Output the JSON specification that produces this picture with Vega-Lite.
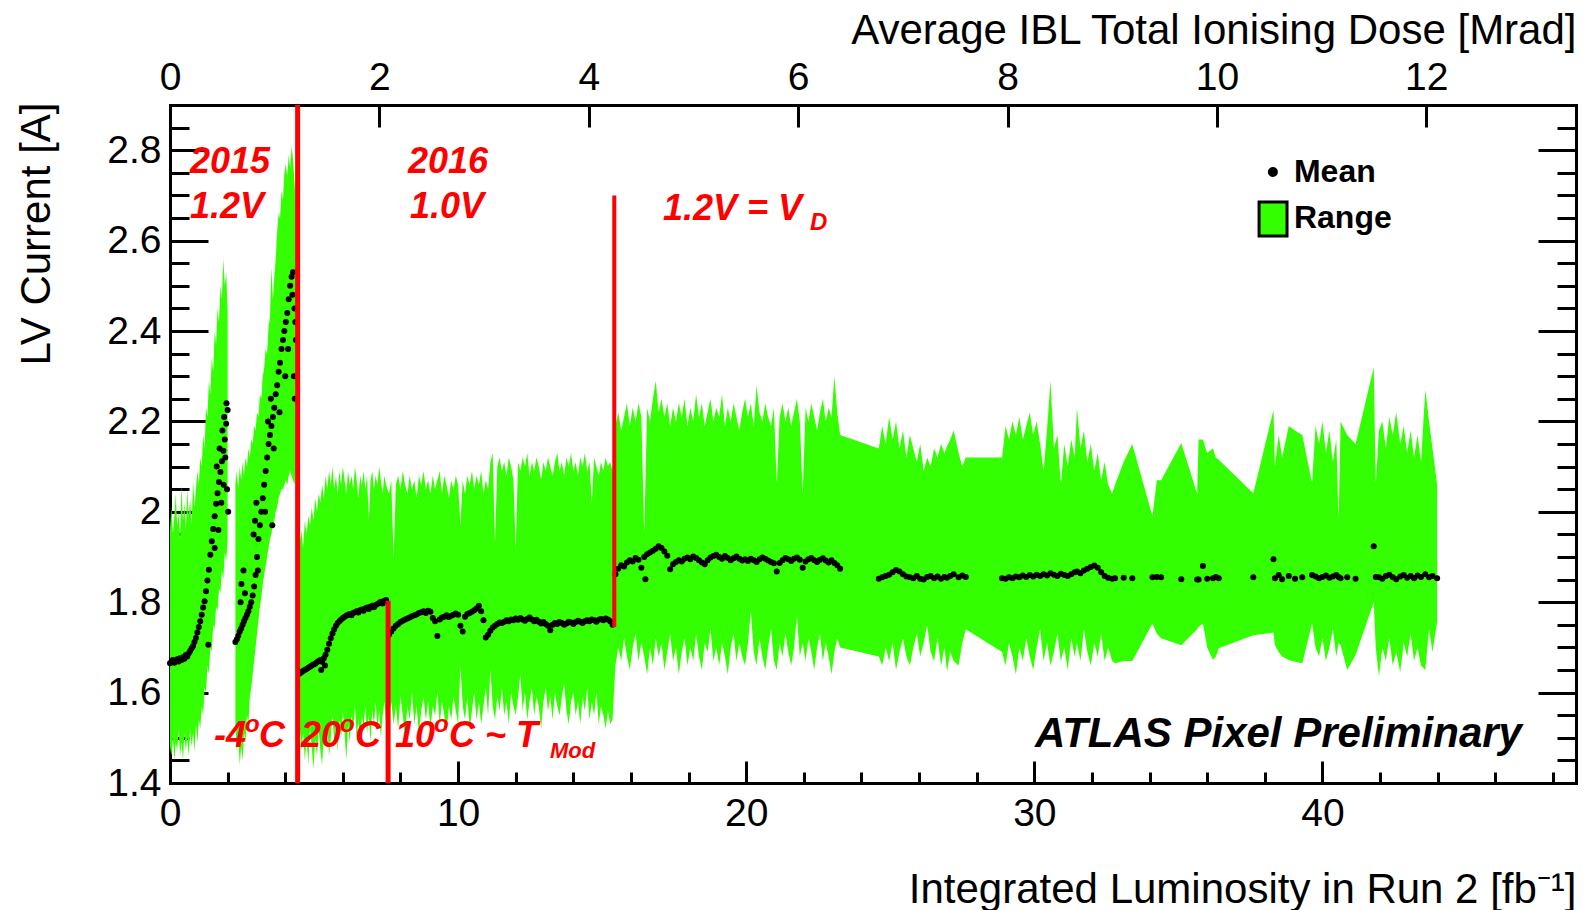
{
  "$schema": "https://vega.github.io/schema/vega-lite/v6.json",
  "width": 1406,
  "height": 678,
  "autosize": {"type": "none"},
  "padding": {"left": 170, "top": 105, "right": 18, "bottom": 127},
  "background": "white",
  "config": {
    "view": {"stroke": null},
    "font": "Liberation Sans",
    "axis": {
      "grid": false, "domain": false, "tickColor": "black", "tickWidth": 3,
      "labelFont": "Liberation Sans", "labelFontSize": 39, "labelColor": "black",
      "titleFont": "Liberation Sans", "titleFontSize": 42, "titleFontWeight": "normal", "titleColor": "black",
      "zindex": 1, "labelFlush": false, "labelOverlap": false,
      "domainColor": "black", "domainWidth": 3, "domainCap": "square"
    }
  },
  "datasets": {
    "lv": [
      {"L":0,"lo":1.48,"hi":1.96,"m":1.665,"s":1},
      {"L":0.05,"lo":1.46,"hi":2.01,"m":1.668,"s":1},
      {"L":0.1,"lo":1.5,"hi":1.95,"m":1.672,"s":1},
      {"L":0.15,"lo":1.45,"hi":1.99,"m":1.666,"s":1},
      {"L":0.2,"lo":1.49,"hi":2.04,"m":1.67,"s":1},
      {"L":0.25,"lo":1.47,"hi":1.97,"m":1.674,"s":1},
      {"L":0.3,"lo":1.52,"hi":2.0,"m":1.669,"s":1},
      {"L":0.35,"lo":1.46,"hi":1.94,"m":1.676,"s":1},
      {"L":0.4,"lo":1.49,"hi":2.06,"m":1.672,"s":1},
      {"L":0.45,"lo":1.45,"hi":1.98,"m":1.678,"s":1},
      {"L":0.5,"lo":1.51,"hi":2.02,"m":1.675,"s":1},
      {"L":0.55,"lo":1.47,"hi":1.96,"m":1.683,"s":1},
      {"L":0.6,"lo":1.5,"hi":2.05,"m":1.68,"s":1},
      {"L":0.65,"lo":1.46,"hi":1.99,"m":1.687,"s":1},
      {"L":0.7,"lo":1.52,"hi":2.03,"m":1.692,"s":1},
      {"L":0.75,"lo":1.48,"hi":1.97,"m":1.698,"s":1},
      {"L":0.8,"lo":1.51,"hi":2.07,"m":1.703,"s":1},
      {"L":0.85,"lo":1.47,"hi":2.01,"m":1.712,"s":1},
      {"L":0.9,"lo":1.53,"hi":2.05,"m":1.721,"s":1},
      {"L":0.95,"lo":1.49,"hi":2.09,"m":1.733,"s":1},
      {"L":1.0,"lo":1.54,"hi":2.06,"m":1.745,"s":1},
      {"L":1.05,"lo":1.52,"hi":2.12,"m":1.758,"s":1},
      {"L":1.1,"lo":1.57,"hi":2.1,"m":1.772,"s":1},
      {"L":1.15,"lo":1.55,"hi":2.17,"m":1.788,"s":1},
      {"L":1.2,"lo":1.61,"hi":2.14,"m":1.802,"s":1},
      {"L":1.25,"lo":1.6,"hi":2.23,"m":1.824,"s":1},
      {"L":1.3,"lo":1.66,"hi":2.21,"m":1.848,"s":1},
      {"L":1.35,"lo":1.64,"hi":2.29,"m":1.872,"s":1},
      {"L":1.4,"lo":1.7,"hi":2.26,"m":1.905,"s":1},
      {"L":1.45,"lo":1.69,"hi":2.34,"m":1.935,"s":1},
      {"L":1.5,"lo":1.75,"hi":2.31,"m":1.962,"s":1},
      {"L":1.55,"lo":1.74,"hi":2.4,"m":1.99,"s":1},
      {"L":1.6,"lo":1.79,"hi":2.37,"m":2.018,"s":1},
      {"L":1.65,"lo":1.78,"hi":2.45,"m":2.041,"s":1},
      {"L":1.7,"lo":1.83,"hi":2.42,"m":2.066,"s":1},
      {"L":1.75,"lo":1.82,"hi":2.5,"m":2.088,"s":1},
      {"L":1.8,"lo":1.87,"hi":2.47,"m":2.112,"s":1},
      {"L":1.85,"lo":1.85,"hi":2.56,"m":2.135,"s":1},
      {"L":1.9,"lo":1.91,"hi":2.5,"m":2.16,"s":1},
      {"L":1.95,"lo":1.89,"hi":2.53,"m":2.195,"s":1},
      {"L":2.0,"lo":1.94,"hi":2.44,"m":2.225,"s":1},
      {"L":1.33,"m":1.706},{"L":1.55,"m":1.92},{"L":1.62,"m":2.1},{"L":1.68,"m":1.96},
      {"L":1.72,"m":2.14},{"L":1.78,"m":2.02},{"L":1.82,"m":2.18},{"L":1.86,"m":2.06},
      {"L":1.88,"m":2.21},{"L":1.92,"m":2.12},{"L":1.96,"m":2.24},{"L":1.98,"m":2.05},{"L":2.02,"m":2.0},
      {"L":2.27,"lo":1.52,"hi":2.06,"m":1.712,"s":2},
      {"L":2.32,"lo":1.47,"hi":2.09,"m":1.718,"s":2},
      {"L":2.37,"lo":1.5,"hi":2.05,"m":1.726,"s":2},
      {"L":2.42,"lo":1.44,"hi":2.1,"m":1.735,"s":2},
      {"L":2.47,"lo":1.48,"hi":2.07,"m":1.742,"s":2},
      {"L":2.52,"lo":1.45,"hi":2.11,"m":1.75,"s":2},
      {"L":2.57,"lo":1.51,"hi":2.08,"m":1.758,"s":2},
      {"L":2.62,"lo":1.49,"hi":2.12,"m":1.765,"s":2},
      {"L":2.67,"lo":1.55,"hi":2.1,"m":1.772,"s":2},
      {"L":2.72,"lo":1.53,"hi":2.14,"m":1.78,"s":2},
      {"L":2.77,"lo":1.59,"hi":2.12,"m":1.79,"s":2},
      {"L":2.82,"lo":1.61,"hi":2.16,"m":1.8,"s":2},
      {"L":2.87,"lo":1.64,"hi":2.15,"m":1.815,"s":2},
      {"L":2.92,"lo":1.67,"hi":2.19,"m":1.835,"s":2},
      {"L":2.97,"lo":1.7,"hi":2.18,"m":1.86,"s":2},
      {"L":3.02,"lo":1.73,"hi":2.22,"m":1.9,"s":2},
      {"L":3.07,"lo":1.76,"hi":2.21,"m":1.94,"s":2},
      {"L":3.12,"lo":1.79,"hi":2.26,"m":1.97,"s":2},
      {"L":3.17,"lo":1.81,"hi":2.25,"m":2.0,"s":2},
      {"L":3.22,"lo":1.84,"hi":2.3,"m":2.03,"s":2},
      {"L":3.27,"lo":1.86,"hi":2.32,"m":2.06,"s":2},
      {"L":3.32,"lo":1.88,"hi":2.36,"m":2.09,"s":2},
      {"L":3.37,"lo":1.9,"hi":2.35,"m":2.12,"s":2},
      {"L":3.42,"lo":1.92,"hi":2.41,"m":2.15,"s":2},
      {"L":3.47,"lo":1.94,"hi":2.43,"m":2.17,"s":2},
      {"L":3.52,"lo":1.95,"hi":2.54,"m":2.19,"s":2},
      {"L":3.57,"lo":1.97,"hi":2.47,"m":2.21,"s":2},
      {"L":3.62,"lo":1.98,"hi":2.52,"m":2.23,"s":2},
      {"L":3.67,"lo":2.0,"hi":2.56,"m":2.26,"s":2},
      {"L":3.72,"lo":2.01,"hi":2.62,"m":2.28,"s":2},
      {"L":3.77,"lo":2.03,"hi":2.66,"m":2.31,"s":2},
      {"L":3.82,"lo":2.04,"hi":2.65,"m":2.33,"s":2},
      {"L":3.87,"lo":2.05,"hi":2.71,"m":2.36,"s":2},
      {"L":3.92,"lo":2.05,"hi":2.69,"m":2.38,"s":2},
      {"L":3.97,"lo":2.06,"hi":2.75,"m":2.4,"s":2},
      {"L":4.02,"lo":2.07,"hi":2.77,"m":2.42,"s":2},
      {"L":4.07,"lo":2.06,"hi":2.74,"m":2.44,"s":2},
      {"L":4.12,"lo":2.08,"hi":2.79,"m":2.47,"s":2},
      {"L":4.17,"lo":2.09,"hi":2.76,"m":2.5,"s":2},
      {"L":4.22,"lo":2.08,"hi":2.81,"m":2.52,"s":2},
      {"L":4.27,"lo":2.07,"hi":2.78,"m":2.53,"s":2},
      {"L":4.32,"lo":2.06,"hi":2.73,"m":2.45,"s":2},
      {"L":4.37,"lo":2.09,"hi":2.68,"m":2.38,"s":2},
      {"L":2.45,"m":1.8},{"L":2.48,"m":1.84},{"L":2.55,"m":1.87},{"L":2.6,"m":1.82},
      {"L":2.9,"m":1.95},{"L":2.95,"m":1.98},{"L":3.0,"m":2.02},{"L":3.05,"m":1.87},
      {"L":3.3,"m":2.0},{"L":3.55,"m":1.97},{"L":3.4,"m":2.2},{"L":3.5,"m":2.25},
      {"L":3.6,"m":2.14},{"L":3.8,"m":2.22},{"L":4.0,"m":2.3},{"L":4.1,"m":2.36},
      {"L":4.25,"m":2.48},{"L":4.3,"m":2.3},{"L":4.33,"m":2.25},{"L":4.35,"m":2.42},
      {"L":4.5,"lo":1.53,"hi":1.93,"m":1.642,"s":3},
      {"L":4.56,"lo":1.47,"hi":1.96,"m":1.645,"s":3},
      {"L":4.62,"lo":1.51,"hi":1.92,"m":1.648,"s":3},
      {"L":4.68,"lo":1.45,"hi":1.98,"m":1.65,"s":3},
      {"L":4.74,"lo":1.5,"hi":1.95,"m":1.652,"s":3},
      {"L":4.8,"lo":1.44,"hi":1.99,"m":1.655,"s":3},
      {"L":4.86,"lo":1.52,"hi":1.97,"m":1.657,"s":3},
      {"L":4.92,"lo":1.48,"hi":2.01,"m":1.66,"s":3},
      {"L":4.98,"lo":1.43,"hi":1.98,"m":1.662,"s":3},
      {"L":5.04,"lo":1.5,"hi":2.03,"m":1.664,"s":3},
      {"L":5.1,"lo":1.46,"hi":2.0,"m":1.667,"s":3},
      {"L":5.16,"lo":1.52,"hi":2.04,"m":1.67,"s":3},
      {"L":5.22,"lo":1.47,"hi":2.02,"m":1.672,"s":3},
      {"L":5.28,"lo":1.44,"hi":2.06,"m":1.668,"s":3},
      {"L":5.34,"lo":1.51,"hi":2.03,"m":1.676,"s":3},
      {"L":5.4,"lo":1.48,"hi":2.08,"m":1.684,"s":3},
      {"L":5.46,"lo":1.53,"hi":2.05,"m":1.695,"s":3},
      {"L":5.52,"lo":1.46,"hi":2.09,"m":1.708,"s":3},
      {"L":5.58,"lo":1.5,"hi":2.06,"m":1.72,"s":3},
      {"L":5.64,"lo":1.55,"hi":2.1,"m":1.731,"s":3},
      {"L":5.7,"lo":1.49,"hi":2.05,"m":1.74,"s":3},
      {"L":5.76,"lo":1.53,"hi":2.08,"m":1.748,"s":3},
      {"L":5.82,"lo":1.47,"hi":2.04,"m":1.754,"s":3},
      {"L":5.88,"lo":1.54,"hi":2.09,"m":1.758,"s":3},
      {"L":5.94,"lo":1.5,"hi":2.06,"m":1.762,"s":3},
      {"L":6.0,"lo":1.56,"hi":2.1,"m":1.765,"s":3},
      {"L":6.06,"lo":1.51,"hi":2.07,"m":1.768,"s":3},
      {"L":6.12,"lo":1.45,"hi":2.04,"m":1.77,"s":3},
      {"L":6.18,"lo":1.53,"hi":2.09,"m":1.772,"s":3},
      {"L":6.24,"lo":1.49,"hi":2.06,"m":1.774,"s":3},
      {"L":6.3,"lo":1.55,"hi":2.08,"m":1.771,"s":3},
      {"L":6.36,"lo":1.52,"hi":2.05,"m":1.776,"s":3},
      {"L":6.42,"lo":1.57,"hi":2.1,"m":1.778,"s":3},
      {"L":6.48,"lo":1.5,"hi":2.07,"m":1.78,"s":3},
      {"L":6.54,"lo":1.54,"hi":2.03,"m":1.777,"s":3},
      {"L":6.6,"lo":1.48,"hi":2.08,"m":1.782,"s":3},
      {"L":6.66,"lo":1.55,"hi":2.06,"m":1.784,"s":3},
      {"L":6.72,"lo":1.52,"hi":2.09,"m":1.781,"s":3},
      {"L":6.78,"lo":1.57,"hi":2.05,"m":1.786,"s":3},
      {"L":6.84,"lo":1.51,"hi":2.08,"m":1.788,"s":3},
      {"L":6.9,"lo":1.55,"hi":1.98,"m":1.785,"s":3},
      {"L":6.96,"lo":1.49,"hi":2.07,"m":1.79,"s":3},
      {"L":7.02,"lo":1.56,"hi":2.09,"m":1.792,"s":3},
      {"L":7.08,"lo":1.53,"hi":2.05,"m":1.789,"s":3},
      {"L":7.14,"lo":1.58,"hi":2.08,"m":1.794,"s":3},
      {"L":7.2,"lo":1.52,"hi":2.06,"m":1.796,"s":3},
      {"L":7.26,"lo":1.56,"hi":2.1,"m":1.798,"s":3},
      {"L":7.32,"lo":1.5,"hi":2.07,"m":1.801,"s":3},
      {"L":7.38,"lo":1.55,"hi":2.04,"m":1.797,"s":3},
      {"L":7.44,"lo":1.58,"hi":2.08,"m":1.803,"s":3},
      {"L":7.5,"lo":1.53,"hi":2.06,"m":1.805,"s":3},
      {"L":5.25,"m":1.65},{"L":5.38,"m":1.66},
      {"L":7.6,"lo":1.55,"hi":2.04,"m":1.728,"s":3},
      {"L":7.68,"lo":1.58,"hi":2.07,"m":1.735,"s":3},
      {"L":7.76,"lo":1.53,"hi":1.9,"m":1.742,"s":3},
      {"L":7.84,"lo":1.57,"hi":2.06,"m":1.748,"s":3},
      {"L":7.92,"lo":1.52,"hi":2.08,"m":1.752,"s":3},
      {"L":8.0,"lo":1.59,"hi":2.05,"m":1.756,"s":3},
      {"L":8.08,"lo":1.55,"hi":2.09,"m":1.759,"s":3},
      {"L":8.16,"lo":1.5,"hi":2.06,"m":1.762,"s":3},
      {"L":8.24,"lo":1.57,"hi":2.04,"m":1.764,"s":3},
      {"L":8.32,"lo":1.54,"hi":2.08,"m":1.766,"s":3},
      {"L":8.4,"lo":1.6,"hi":2.05,"m":1.769,"s":3},
      {"L":8.48,"lo":1.53,"hi":2.07,"m":1.771,"s":3},
      {"L":8.56,"lo":1.57,"hi":2.03,"m":1.773,"s":3},
      {"L":8.64,"lo":1.51,"hi":2.08,"m":1.776,"s":3},
      {"L":8.72,"lo":1.56,"hi":2.06,"m":1.778,"s":3},
      {"L":8.8,"lo":1.59,"hi":2.09,"m":1.78,"s":3},
      {"L":8.88,"lo":1.54,"hi":2.05,"m":1.776,"s":3},
      {"L":8.96,"lo":1.58,"hi":2.07,"m":1.781,"s":3},
      {"L":9.04,"lo":1.52,"hi":2.04,"m":1.779,"s":3},
      {"L":9.12,"lo":1.57,"hi":2.08,"m":1.765,"s":3},
      {"L":9.2,"lo":1.55,"hi":2.05,"m":1.758,"s":3},
      {"L":9.28,"lo":1.6,"hi":2.07,"m":1.725,"s":3},
      {"L":9.36,"lo":1.53,"hi":2.09,"m":1.762,"s":3},
      {"L":9.44,"lo":1.58,"hi":2.04,"m":1.766,"s":3},
      {"L":9.52,"lo":1.55,"hi":2.08,"m":1.768,"s":3},
      {"L":9.6,"lo":1.51,"hi":2.06,"m":1.771,"s":3},
      {"L":9.68,"lo":1.57,"hi":2.03,"m":1.767,"s":3},
      {"L":9.76,"lo":1.54,"hi":2.07,"m":1.77,"s":3},
      {"L":9.84,"lo":1.59,"hi":2.05,"m":1.772,"s":3},
      {"L":9.92,"lo":1.56,"hi":2.08,"m":1.775,"s":3},
      {"L":10.0,"lo":1.53,"hi":2.06,"m":1.772,"s":3},
      {"L":10.08,"lo":1.66,"hi":1.97,"m":1.748,"s":3},
      {"L":10.16,"lo":1.57,"hi":2.07,"m":1.735,"s":3},
      {"L":10.24,"lo":1.54,"hi":2.04,"m":1.768,"s":3},
      {"L":10.32,"lo":1.59,"hi":2.08,"m":1.774,"s":3},
      {"L":10.4,"lo":1.52,"hi":2.06,"m":1.776,"s":3},
      {"L":10.48,"lo":1.56,"hi":2.09,"m":1.779,"s":3},
      {"L":10.56,"lo":1.6,"hi":2.05,"m":1.782,"s":3},
      {"L":10.64,"lo":1.54,"hi":2.08,"m":1.786,"s":3},
      {"L":10.72,"lo":1.58,"hi":2.06,"m":1.792,"s":3},
      {"L":10.8,"lo":1.53,"hi":2.09,"m":1.78,"s":3},
      {"L":10.88,"lo":1.57,"hi":2.04,"m":1.76,"s":3},
      {"L":10.96,"lo":1.61,"hi":2.07,"m":1.722,"s":3},
      {"L":11.04,"lo":1.55,"hi":2.05,"m":1.728,"s":3},
      {"L":11.12,"lo":1.65,"hi":2.11,"m":1.737,"s":3},
      {"L":11.2,"lo":1.57,"hi":2.13,"m":1.744,"s":3},
      {"L":11.28,"lo":1.54,"hi":1.93,"m":1.748,"s":3},
      {"L":11.36,"lo":1.59,"hi":2.1,"m":1.752,"s":3},
      {"L":11.44,"lo":1.56,"hi":2.12,"m":1.755,"s":3},
      {"L":11.52,"lo":1.61,"hi":2.09,"m":1.754,"s":3},
      {"L":11.6,"lo":1.55,"hi":2.11,"m":1.757,"s":3},
      {"L":11.68,"lo":1.58,"hi":2.08,"m":1.76,"s":3},
      {"L":11.76,"lo":1.53,"hi":2.12,"m":1.758,"s":3},
      {"L":11.84,"lo":1.6,"hi":2.1,"m":1.762,"s":3},
      {"L":11.92,"lo":1.57,"hi":2.07,"m":1.76,"s":3},
      {"L":12.0,"lo":1.55,"hi":1.92,"m":1.764,"s":3},
      {"L":12.08,"lo":1.59,"hi":2.11,"m":1.761,"s":3},
      {"L":12.16,"lo":1.64,"hi":2.09,"m":1.765,"s":3},
      {"L":12.24,"lo":1.56,"hi":2.12,"m":1.762,"s":3},
      {"L":12.32,"lo":1.6,"hi":2.1,"m":1.759,"s":3},
      {"L":12.4,"lo":1.54,"hi":2.13,"m":1.763,"s":3},
      {"L":12.48,"lo":1.58,"hi":2.08,"m":1.766,"s":3},
      {"L":12.56,"lo":1.61,"hi":2.11,"m":1.762,"s":3},
      {"L":12.64,"lo":1.55,"hi":2.09,"m":1.758,"s":3},
      {"L":12.72,"lo":1.59,"hi":2.12,"m":1.761,"s":3},
      {"L":12.8,"lo":1.57,"hi":2.1,"m":1.757,"s":3},
      {"L":12.88,"lo":1.52,"hi":2.07,"m":1.753,"s":3},
      {"L":12.96,"lo":1.58,"hi":2.11,"m":1.756,"s":3},
      {"L":13.04,"lo":1.61,"hi":2.09,"m":1.752,"s":3},
      {"L":13.12,"lo":1.56,"hi":2.12,"m":1.748,"s":3},
      {"L":13.2,"lo":1.59,"hi":2.1,"m":1.738,"s":3},
      {"L":13.28,"lo":1.54,"hi":2.08,"m":1.75,"s":3},
      {"L":13.36,"lo":1.6,"hi":2.11,"m":1.754,"s":3},
      {"L":13.44,"lo":1.57,"hi":2.13,"m":1.752,"s":3},
      {"L":13.52,"lo":1.55,"hi":2.09,"m":1.756,"s":3},
      {"L":13.6,"lo":1.59,"hi":2.11,"m":1.754,"s":3},
      {"L":13.68,"lo":1.62,"hi":2.08,"m":1.75,"s":3},
      {"L":13.76,"lo":1.56,"hi":2.12,"m":1.753,"s":3},
      {"L":13.84,"lo":1.53,"hi":2.1,"m":1.757,"s":3},
      {"L":13.92,"lo":1.58,"hi":2.13,"m":1.755,"s":3},
      {"L":14.0,"lo":1.6,"hi":2.09,"m":1.752,"s":3},
      {"L":14.08,"lo":1.55,"hi":2.11,"m":1.756,"s":3},
      {"L":14.16,"lo":1.58,"hi":2.08,"m":1.759,"s":3},
      {"L":14.24,"lo":1.53,"hi":2.12,"m":1.757,"s":3},
      {"L":14.32,"lo":1.59,"hi":2.1,"m":1.754,"s":3},
      {"L":14.4,"lo":1.56,"hi":2.13,"m":1.758,"s":3},
      {"L":14.48,"lo":1.61,"hi":2.09,"m":1.76,"s":3},
      {"L":14.56,"lo":1.54,"hi":2.11,"m":1.758,"s":3},
      {"L":14.64,"lo":1.58,"hi":2.02,"m":1.762,"s":3},
      {"L":14.72,"lo":1.55,"hi":2.12,"m":1.76,"s":3},
      {"L":14.8,"lo":1.6,"hi":2.1,"m":1.757,"s":3},
      {"L":14.88,"lo":1.53,"hi":2.08,"m":1.761,"s":3},
      {"L":14.96,"lo":1.57,"hi":2.11,"m":1.763,"s":3},
      {"L":15.04,"lo":1.55,"hi":2.09,"m":1.76,"s":3},
      {"L":15.12,"lo":1.52,"hi":2.12,"m":1.764,"s":3},
      {"L":15.2,"lo":1.56,"hi":2.1,"m":1.762,"s":3},
      {"L":15.28,"lo":1.53,"hi":2.11,"m":1.758,"s":3},
      {"L":15.36,"lo":1.54,"hi":2.09,"m":1.75,"s":3},
      {"L":15.46,"lo":1.66,"hi":2.19,"m":1.862,"s":3},
      {"L":15.56,"lo":1.7,"hi":2.22,"m":1.874,"s":3},
      {"L":15.66,"lo":1.67,"hi":2.18,"m":1.882,"s":3},
      {"L":15.76,"lo":1.72,"hi":2.21,"m":1.879,"s":3},
      {"L":15.86,"lo":1.68,"hi":2.24,"m":1.888,"s":3},
      {"L":15.96,"lo":1.65,"hi":2.19,"m":1.893,"s":3},
      {"L":16.06,"lo":1.7,"hi":2.23,"m":1.89,"s":3},
      {"L":16.16,"lo":1.73,"hi":2.2,"m":1.898,"s":3},
      {"L":16.26,"lo":1.67,"hi":2.24,"m":1.894,"s":3},
      {"L":16.36,"lo":1.71,"hi":2.21,"m":1.876,"s":3},
      {"L":16.46,"lo":1.68,"hi":1.95,"m":1.9,"s":3},
      {"L":16.56,"lo":1.64,"hi":2.23,"m":1.906,"s":3},
      {"L":16.66,"lo":1.7,"hi":2.2,"m":1.91,"s":3},
      {"L":16.76,"lo":1.66,"hi":2.25,"m":1.914,"s":3},
      {"L":16.86,"lo":1.72,"hi":2.29,"m":1.918,"s":3},
      {"L":16.96,"lo":1.68,"hi":2.22,"m":1.924,"s":3},
      {"L":17.06,"lo":1.71,"hi":2.25,"m":1.92,"s":3},
      {"L":17.16,"lo":1.65,"hi":2.21,"m":1.912,"s":3},
      {"L":17.26,"lo":1.69,"hi":2.24,"m":1.903,"s":3},
      {"L":17.36,"lo":1.73,"hi":2.19,"m":1.873,"s":3},
      {"L":17.46,"lo":1.67,"hi":2.23,"m":1.884,"s":3},
      {"L":17.56,"lo":1.7,"hi":2.2,"m":1.889,"s":3},
      {"L":17.66,"lo":1.64,"hi":2.24,"m":1.893,"s":3},
      {"L":17.76,"lo":1.69,"hi":2.21,"m":1.89,"s":3},
      {"L":17.86,"lo":1.72,"hi":2.25,"m":1.896,"s":3},
      {"L":17.96,"lo":1.66,"hi":2.19,"m":1.899,"s":3},
      {"L":18.06,"lo":1.7,"hi":2.23,"m":1.895,"s":3},
      {"L":18.16,"lo":1.67,"hi":2.2,"m":1.901,"s":3},
      {"L":18.26,"lo":1.73,"hi":2.26,"m":1.898,"s":3},
      {"L":18.36,"lo":1.68,"hi":2.21,"m":1.893,"s":3},
      {"L":18.46,"lo":1.65,"hi":2.24,"m":1.888,"s":3},
      {"L":18.56,"lo":1.71,"hi":2.19,"m":1.884,"s":3},
      {"L":18.66,"lo":1.69,"hi":2.22,"m":1.893,"s":3},
      {"L":18.76,"lo":1.74,"hi":2.25,"m":1.899,"s":3},
      {"L":18.86,"lo":1.67,"hi":2.2,"m":1.902,"s":3},
      {"L":18.96,"lo":1.7,"hi":2.23,"m":1.905,"s":3},
      {"L":19.06,"lo":1.66,"hi":2.21,"m":1.9,"s":3},
      {"L":19.16,"lo":1.71,"hi":2.26,"m":1.896,"s":3},
      {"L":19.26,"lo":1.68,"hi":2.19,"m":1.902,"s":3},
      {"L":19.36,"lo":1.64,"hi":2.23,"m":1.898,"s":3},
      {"L":19.46,"lo":1.7,"hi":2.2,"m":1.893,"s":3},
      {"L":19.56,"lo":1.73,"hi":2.24,"m":1.897,"s":3},
      {"L":19.66,"lo":1.67,"hi":2.21,"m":1.901,"s":3},
      {"L":19.76,"lo":1.71,"hi":2.18,"m":1.896,"s":3},
      {"L":19.86,"lo":1.68,"hi":2.22,"m":1.892,"s":3},
      {"L":19.96,"lo":1.66,"hi":2.25,"m":1.895,"s":3},
      {"L":20.06,"lo":1.71,"hi":2.21,"m":1.891,"s":3},
      {"L":20.16,"lo":1.78,"hi":2.24,"m":1.896,"s":3},
      {"L":20.26,"lo":1.69,"hi":2.19,"m":1.893,"s":3},
      {"L":20.36,"lo":1.66,"hi":2.28,"m":1.889,"s":3},
      {"L":20.46,"lo":1.72,"hi":2.22,"m":1.895,"s":3},
      {"L":20.56,"lo":1.68,"hi":2.2,"m":1.899,"s":3},
      {"L":20.66,"lo":1.65,"hi":2.24,"m":1.896,"s":3},
      {"L":20.76,"lo":1.7,"hi":2.21,"m":1.892,"s":3},
      {"L":20.86,"lo":1.74,"hi":2.19,"m":1.889,"s":3},
      {"L":20.96,"lo":1.67,"hi":2.23,"m":1.886,"s":3},
      {"L":21.06,"lo":1.65,"hi":2.06,"m":1.868,"s":3},
      {"L":21.16,"lo":1.71,"hi":2.21,"m":1.887,"s":3},
      {"L":21.26,"lo":1.68,"hi":2.24,"m":1.893,"s":3},
      {"L":21.36,"lo":1.73,"hi":2.2,"m":1.898,"s":3},
      {"L":21.46,"lo":1.69,"hi":2.23,"m":1.895,"s":3},
      {"L":21.56,"lo":1.66,"hi":2.19,"m":1.891,"s":3},
      {"L":21.66,"lo":1.7,"hi":2.22,"m":1.896,"s":3},
      {"L":21.76,"lo":1.77,"hi":2.25,"m":1.899,"s":3},
      {"L":21.86,"lo":1.68,"hi":2.2,"m":1.894,"s":3},
      {"L":21.96,"lo":1.71,"hi":2.04,"m":1.876,"s":3},
      {"L":22.06,"lo":1.67,"hi":2.23,"m":1.89,"s":3},
      {"L":22.16,"lo":1.72,"hi":2.2,"m":1.895,"s":3},
      {"L":22.26,"lo":1.69,"hi":2.24,"m":1.898,"s":3},
      {"L":22.36,"lo":1.65,"hi":2.21,"m":1.893,"s":3},
      {"L":22.46,"lo":1.7,"hi":2.18,"m":1.889,"s":3},
      {"L":22.56,"lo":1.73,"hi":2.22,"m":1.894,"s":3},
      {"L":22.66,"lo":1.67,"hi":2.25,"m":1.897,"s":3},
      {"L":22.76,"lo":1.71,"hi":2.2,"m":1.892,"s":3},
      {"L":22.86,"lo":1.68,"hi":2.23,"m":1.888,"s":3},
      {"L":22.96,"lo":1.64,"hi":2.21,"m":1.893,"s":3},
      {"L":23.06,"lo":1.69,"hi":2.3,"m":1.887,"s":3},
      {"L":23.16,"lo":1.72,"hi":2.22,"m":1.882,"s":3},
      {"L":23.26,"lo":1.7,"hi":2.17,"m":1.874,"s":3},
      {"L":16.5,"m":1.851},
      {"L":24.6,"lo":1.68,"hi":2.14,"m":1.852,"s":3},
      {"L":24.72,"lo":1.66,"hi":2.19,"m":1.855,"s":3},
      {"L":24.84,"lo":1.7,"hi":2.15,"m":1.858,"s":3},
      {"L":24.96,"lo":1.67,"hi":2.21,"m":1.861,"s":3},
      {"L":25.08,"lo":1.71,"hi":2.16,"m":1.866,"s":3},
      {"L":25.2,"lo":1.65,"hi":2.2,"m":1.871,"s":3},
      {"L":25.32,"lo":1.69,"hi":2.14,"m":1.868,"s":3},
      {"L":25.44,"lo":1.72,"hi":2.18,"m":1.862,"s":3},
      {"L":25.56,"lo":1.68,"hi":2.12,"m":1.857,"s":3},
      {"L":25.68,"lo":1.66,"hi":2.17,"m":1.855,"s":3},
      {"L":25.8,"lo":1.7,"hi":2.14,"m":1.853,"s":3},
      {"L":25.92,"lo":1.73,"hi":2.11,"m":1.858,"s":3},
      {"L":26.04,"lo":1.68,"hi":2.15,"m":1.852,"s":3},
      {"L":26.16,"lo":1.71,"hi":2.09,"m":1.85,"s":3},
      {"L":26.28,"lo":1.75,"hi":2.12,"m":1.856,"s":3},
      {"L":26.4,"lo":1.69,"hi":2.1,"m":1.858,"s":3},
      {"L":26.52,"lo":1.67,"hi":2.14,"m":1.853,"s":3},
      {"L":26.64,"lo":1.72,"hi":2.12,"m":1.857,"s":3},
      {"L":26.76,"lo":1.66,"hi":2.15,"m":1.852,"s":3},
      {"L":26.88,"lo":1.7,"hi":2.13,"m":1.856,"s":3},
      {"L":26.97,"lo":1.646,"hi":2.145,"m":1.854,"s":3},
      {"L":27.08,"lo":1.69,"hi":2.16,"m":1.858,"s":3},
      {"L":27.2,"lo":1.67,"hi":2.18,"m":1.862,"s":3},
      {"L":27.37,"lo":1.66,"hi":2.13,"m":1.855,"s":3},
      {"L":27.5,"lo":1.71,"hi":2.1,"m":1.859,"s":3},
      {"L":27.62,"lo":1.74,"hi":2.12,"m":1.856,"s":3},
      {"L":28.88,"lo":1.69,"hi":2.12,"m":1.853,"s":3},
      {"L":29.0,"lo":1.66,"hi":2.19,"m":1.852,"s":3},
      {"L":29.12,"lo":1.71,"hi":2.16,"m":1.855,"s":3},
      {"L":29.24,"lo":1.68,"hi":2.2,"m":1.853,"s":3},
      {"L":29.36,"lo":1.64,"hi":2.17,"m":1.857,"s":3},
      {"L":29.48,"lo":1.7,"hi":2.21,"m":1.855,"s":3},
      {"L":29.6,"lo":1.67,"hi":2.16,"m":1.859,"s":3},
      {"L":29.72,"lo":1.72,"hi":2.19,"m":1.856,"s":3},
      {"L":29.84,"lo":1.68,"hi":2.22,"m":1.86,"s":3},
      {"L":29.96,"lo":1.65,"hi":2.17,"m":1.857,"s":3},
      {"L":30.08,"lo":1.7,"hi":2.2,"m":1.861,"s":3},
      {"L":30.2,"lo":1.74,"hi":2.15,"m":1.858,"s":3},
      {"L":30.32,"lo":1.67,"hi":2.09,"m":1.862,"s":3},
      {"L":30.44,"lo":1.71,"hi":2.18,"m":1.859,"s":3},
      {"L":30.56,"lo":1.66,"hi":2.29,"m":1.864,"s":3},
      {"L":30.68,"lo":1.69,"hi":2.14,"m":1.861,"s":3},
      {"L":30.8,"lo":1.73,"hi":2.17,"m":1.858,"s":3},
      {"L":30.92,"lo":1.67,"hi":2.06,"m":1.863,"s":3},
      {"L":31.04,"lo":1.7,"hi":2.15,"m":1.86,"s":3},
      {"L":31.16,"lo":1.65,"hi":2.1,"m":1.858,"s":3},
      {"L":31.28,"lo":1.72,"hi":2.16,"m":1.862,"s":3},
      {"L":31.4,"lo":1.68,"hi":2.12,"m":1.866,"s":3},
      {"L":31.48,"lo":1.71,"hi":2.23,"m":1.868,"s":3},
      {"L":31.6,"lo":1.67,"hi":2.14,"m":1.864,"s":3},
      {"L":31.72,"lo":1.74,"hi":2.18,"m":1.87,"s":3},
      {"L":31.84,"lo":1.69,"hi":2.11,"m":1.874,"s":3},
      {"L":31.96,"lo":1.66,"hi":2.15,"m":1.878,"s":3},
      {"L":32.08,"lo":1.71,"hi":2.09,"m":1.881,"s":3},
      {"L":32.2,"lo":1.68,"hi":2.13,"m":1.876,"s":3},
      {"L":32.32,"lo":1.73,"hi":2.07,"m":1.866,"s":3},
      {"L":32.44,"lo":1.67,"hi":2.11,"m":1.858,"s":3},
      {"L":32.56,"lo":1.7,"hi":2.06,"m":1.854,"s":3},
      {"L":32.7,"lo":1.67,"hi":2.04,"m":1.852,"s":3},
      {"L":32.8,"lo":1.665,"hi":2.06,"m":1.853,"s":3},
      {"L":33.1,"lo":1.67,"hi":2.11,"m":1.854,"s":3},
      {"L":33.4,"lo":1.67,"hi":2.15,"m":1.853,"s":3},
      {"L":34.1,"lo":1.753,"hi":1.99,"m":1.855,"s":3},
      {"L":34.25,"lo":1.73,"hi":2.07,"m":1.856,"s":3},
      {"L":34.4,"lo":1.72,"hi":2.07,"m":1.855,"s":3},
      {"L":35.1,"lo":1.705,"hi":2.152,"m":1.851,"s":3},
      {"L":35.65,"lo":1.74,"hi":2.04,"m":1.85,"s":3},
      {"L":35.7,"lo":1.745,"hi":2.16,"m":1.85,"s":3},
      {"L":35.85,"lo":1.753,"hi":2.16,"m":1.88,"s":3},
      {"L":36.0,"lo":1.7,"hi":2.13,"m":1.852,"s":3},
      {"L":36.2,"lo":1.672,"hi":2.14,"m":1.853,"s":3},
      {"L":36.3,"lo":1.68,"hi":2.12,"m":1.856,"s":3},
      {"L":36.4,"lo":1.698,"hi":2.115,"m":1.853,"s":3},
      {"L":37.6,"lo":1.727,"hi":2.041,"m":1.855,"s":3},
      {"L":38.3,"lo":1.733,"hi":2.225,"m":1.895,"s":3},
      {"L":38.35,"lo":1.705,"hi":2.1,"m":1.853,"s":3},
      {"L":38.48,"lo":1.69,"hi":2.17,"m":1.86,"s":3},
      {"L":38.6,"lo":1.68,"hi":2.12,"m":1.851,"s":3},
      {"L":38.83,"lo":1.672,"hi":2.19,"m":1.858,"s":3},
      {"L":39.05,"lo":1.668,"hi":2.18,"m":1.852,"s":3},
      {"L":39.3,"lo":1.665,"hi":2.17,"m":1.855,"s":3},
      {"L":39.64,"lo":1.753,"hi":2.063,"m":1.86,"s":3},
      {"L":39.76,"lo":1.7,"hi":2.19,"m":1.857,"s":3},
      {"L":39.88,"lo":1.68,"hi":2.15,"m":1.853,"s":3},
      {"L":40.0,"lo":1.72,"hi":2.2,"m":1.856,"s":3},
      {"L":40.12,"lo":1.67,"hi":2.13,"m":1.859,"s":3},
      {"L":40.24,"lo":1.7,"hi":2.18,"m":1.854,"s":3},
      {"L":40.36,"lo":1.74,"hi":2.11,"m":1.857,"s":3},
      {"L":40.48,"lo":1.68,"hi":2.16,"m":1.86,"s":3},
      {"L":40.56,"lo":1.71,"hi":1.98,"m":1.856,"s":3},
      {"L":40.63,"lo":1.705,"hi":2.2,"m":1.853,"s":3},
      {"L":40.86,"lo":1.65,"hi":2.17,"m":1.855,"s":3},
      {"L":41.15,"lo":1.683,"hi":2.15,"m":1.852,"s":3},
      {"L":41.78,"lo":1.8,"hi":2.32,"m":1.924,"s":3},
      {"L":41.85,"lo":1.7,"hi":2.06,"m":1.856,"s":3},
      {"L":41.96,"lo":1.636,"hi":2.18,"m":1.855,"s":3},
      {"L":42.08,"lo":1.7,"hi":2.2,"m":1.852,"s":3},
      {"L":42.2,"lo":1.67,"hi":2.14,"m":1.858,"s":3},
      {"L":42.32,"lo":1.72,"hi":2.21,"m":1.861,"s":3},
      {"L":42.44,"lo":1.66,"hi":2.17,"m":1.855,"s":3},
      {"L":42.56,"lo":1.69,"hi":2.22,"m":1.851,"s":3},
      {"L":42.7,"lo":1.645,"hi":2.15,"m":1.857,"s":3},
      {"L":42.82,"lo":1.71,"hi":2.19,"m":1.86,"s":3},
      {"L":42.94,"lo":1.68,"hi":2.13,"m":1.854,"s":3},
      {"L":43.06,"lo":1.73,"hi":2.18,"m":1.858,"s":3},
      {"L":43.18,"lo":1.67,"hi":2.12,"m":1.853,"s":3},
      {"L":43.3,"lo":1.7,"hi":2.17,"m":1.859,"s":3},
      {"L":43.42,"lo":1.66,"hi":2.11,"m":1.856,"s":3},
      {"L":43.57,"lo":1.65,"hi":2.27,"m":1.862,"s":3},
      {"L":43.7,"lo":1.74,"hi":2.2,"m":1.855,"s":3},
      {"L":43.82,"lo":1.69,"hi":2.14,"m":1.858,"s":3},
      {"L":43.98,"lo":1.757,"hi":2.06,"m":1.853,"s":3}
    ]
  },
  "layer": [
    {
      "data": {"name": "lv"},
      "transform": [{"filter": "isValid(datum.lo)"}],
      "mark": {"type": "area", "color": "#33ff00", "opacity": 1},
      "encoding": {
        "x": {"field": "L", "type": "quantitative", "scale": {"domain": [0, 48.8], "nice": false, "zero": false},
          "axis": {"orient": "bottom", "values": [0, 10, 20, 30, 40], "tickSize": -22, "labelPadding": 64, "labelBaseline": "alphabetic", "format": "d", "domain": true,
            "title": "Integrated Luminosity in Run 2 [fb⁻¹]", "titleAlign": "right", "titleBaseline": "alphabetic", "titleX": 1406, "titleY": 119}},
        "y": {"field": "lo", "type": "quantitative", "scale": {"domain": [1.4, 2.9], "nice": false, "zero": false},
          "axis": {"orient": "left", "values": [1.4, 1.6, 1.8, 2, 2.2, 2.4, 2.6, 2.8], "tickSize": -38, "labelPadding": 47, "labelAlign": "right", "labelBaseline": "middle", "format": "~g", "domain": true,
            "title": "LV Current [A]", "titleAngle": 270, "titleAlign": "right", "titleBaseline": "alphabetic", "titleX": -121, "titleY": -3}},
        "y2": {"field": "hi"},
        "detail": {"field": "s", "type": "nominal"}
      }
    },
    {
      "data": {"name": "lv"},
      "transform": [{"filter": "isValid(datum.m)"}],
      "mark": {"type": "circle", "size": 36, "color": "black", "opacity": 1},
      "encoding": {
        "x": {"field": "L", "type": "quantitative", "scale": {"domain": [0, 48.8], "nice": false, "zero": false}, "axis": null},
        "y": {"field": "m", "type": "quantitative", "scale": {"domain": [1.4, 2.9], "nice": false, "zero": false}, "axis": null}
      }
    },
    {
      "data": {"values": [{}]},
      "mark": {"type": "rule", "color": "#ff0000", "strokeWidth": 5},
      "encoding": {
        "x": {"datum": 4.43, "type": "quantitative", "scale": {"domain": [0, 48.8], "nice": false, "zero": false}, "axis": null},
        "y": {"datum": 1.4, "type": "quantitative", "scale": {"domain": [1.4, 2.9], "nice": false, "zero": false}, "axis": null},
        "y2": {"datum": 2.9}
      }
    },
    {
      "data": {"values": [{}]},
      "mark": {"type": "rule", "color": "#ff0000", "strokeWidth": 5},
      "encoding": {
        "x": {"datum": 7.57, "type": "quantitative", "scale": {"domain": [0, 48.8], "nice": false, "zero": false}, "axis": null},
        "y": {"datum": 1.4, "type": "quantitative", "scale": {"domain": [1.4, 2.9], "nice": false, "zero": false}, "axis": null},
        "y2": {"datum": 1.803}
      }
    },
    {
      "data": {"values": [{}]},
      "mark": {"type": "rule", "color": "#ff0000", "strokeWidth": 4},
      "encoding": {
        "x": {"datum": 15.42, "type": "quantitative", "scale": {"domain": [0, 48.8], "nice": false, "zero": false}, "axis": null},
        "y": {"datum": 1.745, "type": "quantitative", "scale": {"domain": [1.4, 2.9], "nice": false, "zero": false}, "axis": null},
        "y2": {"datum": 2.7}
      }
    },
    {
      "data": {"values": [{}]},
      "mark": {"type": "text", "text": "2015", "font": "Liberation Sans", "fontSize": 36, "fontWeight": "bold", "fontStyle": "italic", "color": "#ff0000", "align": "left", "baseline": "alphabetic"},
      "encoding": {
        "x": {"datum": 0.694, "type": "quantitative", "scale": {"domain": [0, 48.8], "nice": false, "zero": false}, "axis": null},
        "y": {"datum": 2.7496, "type": "quantitative", "scale": {"domain": [1.4, 2.9], "nice": false, "zero": false}, "axis": null}
      }
    },
    {
      "data": {"values": [{}]},
      "mark": {"type": "text", "text": "1.2V", "font": "Liberation Sans", "fontSize": 36, "fontWeight": "bold", "fontStyle": "italic", "color": "#ff0000", "align": "left", "baseline": "alphabetic"},
      "encoding": {
        "x": {"datum": 0.694, "type": "quantitative", "scale": {"domain": [0, 48.8], "nice": false, "zero": false}, "axis": null},
        "y": {"datum": 2.65, "type": "quantitative", "scale": {"domain": [1.4, 2.9], "nice": false, "zero": false}, "axis": null}
      }
    },
    {
      "data": {"values": [{}]},
      "mark": {"type": "text", "text": "2016", "font": "Liberation Sans", "fontSize": 36, "fontWeight": "bold", "fontStyle": "italic", "color": "#ff0000", "align": "left", "baseline": "alphabetic"},
      "encoding": {
        "x": {"datum": 8.26, "type": "quantitative", "scale": {"domain": [0, 48.8], "nice": false, "zero": false}, "axis": null},
        "y": {"datum": 2.7496, "type": "quantitative", "scale": {"domain": [1.4, 2.9], "nice": false, "zero": false}, "axis": null}
      }
    },
    {
      "data": {"values": [{}]},
      "mark": {"type": "text", "text": "1.0V", "font": "Liberation Sans", "fontSize": 36, "fontWeight": "bold", "fontStyle": "italic", "color": "#ff0000", "align": "left", "baseline": "alphabetic"},
      "encoding": {
        "x": {"datum": 8.33, "type": "quantitative", "scale": {"domain": [0, 48.8], "nice": false, "zero": false}, "axis": null},
        "y": {"datum": 2.65, "type": "quantitative", "scale": {"domain": [1.4, 2.9], "nice": false, "zero": false}, "axis": null}
      }
    },
    {
      "data": {"values": [{}]},
      "mark": {"type": "text", "text": "1.2V = V", "font": "Liberation Sans", "fontSize": 36, "fontWeight": "bold", "fontStyle": "italic", "color": "#ff0000", "align": "left", "baseline": "alphabetic"},
      "encoding": {
        "x": {"datum": 17.11, "type": "quantitative", "scale": {"domain": [0, 48.8], "nice": false, "zero": false}, "axis": null},
        "y": {"datum": 2.6456, "type": "quantitative", "scale": {"domain": [1.4, 2.9], "nice": false, "zero": false}, "axis": null}
      }
    },
    {
      "data": {"values": [{}]},
      "mark": {"type": "text", "text": "D", "font": "Liberation Sans", "fontSize": 24, "fontWeight": "bold", "fontStyle": "italic", "color": "#ff0000", "align": "left", "baseline": "alphabetic"},
      "encoding": {
        "x": {"datum": 22.21, "type": "quantitative", "scale": {"domain": [0, 48.8], "nice": false, "zero": false}, "axis": null},
        "y": {"datum": 2.6234, "type": "quantitative", "scale": {"domain": [1.4, 2.9], "nice": false, "zero": false}, "axis": null}
      }
    },
    {
      "data": {"values": [{}]},
      "mark": {"type": "text", "text": "-4", "font": "Liberation Sans", "fontSize": 36, "fontWeight": "bold", "fontStyle": "italic", "color": "#ff0000", "align": "left", "baseline": "alphabetic"},
      "encoding": {
        "x": {"datum": 1.527, "type": "quantitative", "scale": {"domain": [0, 48.8], "nice": false, "zero": false}, "axis": null},
        "y": {"datum": 1.4796, "type": "quantitative", "scale": {"domain": [1.4, 2.9], "nice": false, "zero": false}, "axis": null}
      }
    },
    {
      "data": {"values": [{}]},
      "mark": {"type": "text", "text": "o", "font": "Liberation Sans", "fontSize": 24, "fontWeight": "bold", "fontStyle": "italic", "color": "#ff0000", "align": "left", "baseline": "alphabetic"},
      "encoding": {
        "x": {"datum": 2.6, "type": "quantitative", "scale": {"domain": [0, 48.8], "nice": false, "zero": false}, "axis": null},
        "y": {"datum": 1.5128, "type": "quantitative", "scale": {"domain": [1.4, 2.9], "nice": false, "zero": false}, "axis": null}
      }
    },
    {
      "data": {"values": [{}]},
      "mark": {"type": "text", "text": "C", "font": "Liberation Sans", "fontSize": 36, "fontWeight": "bold", "fontStyle": "italic", "color": "#ff0000", "align": "left", "baseline": "alphabetic"},
      "encoding": {
        "x": {"datum": 3.089, "type": "quantitative", "scale": {"domain": [0, 48.8], "nice": false, "zero": false}, "axis": null},
        "y": {"datum": 1.4796, "type": "quantitative", "scale": {"domain": [1.4, 2.9], "nice": false, "zero": false}, "axis": null}
      }
    },
    {
      "data": {"values": [{}]},
      "mark": {"type": "text", "text": "20", "font": "Liberation Sans", "fontSize": 36, "fontWeight": "bold", "fontStyle": "italic", "color": "#ff0000", "align": "left", "baseline": "alphabetic"},
      "encoding": {
        "x": {"datum": 4.547, "type": "quantitative", "scale": {"domain": [0, 48.8], "nice": false, "zero": false}, "axis": null},
        "y": {"datum": 1.4796, "type": "quantitative", "scale": {"domain": [1.4, 2.9], "nice": false, "zero": false}, "axis": null}
      }
    },
    {
      "data": {"values": [{}]},
      "mark": {"type": "text", "text": "o", "font": "Liberation Sans", "fontSize": 24, "fontWeight": "bold", "fontStyle": "italic", "color": "#ff0000", "align": "left", "baseline": "alphabetic"},
      "encoding": {
        "x": {"datum": 5.9, "type": "quantitative", "scale": {"domain": [0, 48.8], "nice": false, "zero": false}, "axis": null},
        "y": {"datum": 1.5128, "type": "quantitative", "scale": {"domain": [1.4, 2.9], "nice": false, "zero": false}, "axis": null}
      }
    },
    {
      "data": {"values": [{}]},
      "mark": {"type": "text", "text": "C", "font": "Liberation Sans", "fontSize": 36, "fontWeight": "bold", "fontStyle": "italic", "color": "#ff0000", "align": "left", "baseline": "alphabetic"},
      "encoding": {
        "x": {"datum": 6.421, "type": "quantitative", "scale": {"domain": [0, 48.8], "nice": false, "zero": false}, "axis": null},
        "y": {"datum": 1.4796, "type": "quantitative", "scale": {"domain": [1.4, 2.9], "nice": false, "zero": false}, "axis": null}
      }
    },
    {
      "data": {"values": [{}]},
      "mark": {"type": "text", "text": "10", "font": "Liberation Sans", "fontSize": 36, "fontWeight": "bold", "fontStyle": "italic", "color": "#ff0000", "align": "left", "baseline": "alphabetic"},
      "encoding": {
        "x": {"datum": 7.809, "type": "quantitative", "scale": {"domain": [0, 48.8], "nice": false, "zero": false}, "axis": null},
        "y": {"datum": 1.4796, "type": "quantitative", "scale": {"domain": [1.4, 2.9], "nice": false, "zero": false}, "axis": null}
      }
    },
    {
      "data": {"values": [{}]},
      "mark": {"type": "text", "text": "o", "font": "Liberation Sans", "fontSize": 24, "fontWeight": "bold", "fontStyle": "italic", "color": "#ff0000", "align": "left", "baseline": "alphabetic"},
      "encoding": {
        "x": {"datum": 9.16, "type": "quantitative", "scale": {"domain": [0, 48.8], "nice": false, "zero": false}, "axis": null},
        "y": {"datum": 1.5128, "type": "quantitative", "scale": {"domain": [1.4, 2.9], "nice": false, "zero": false}, "axis": null}
      }
    },
    {
      "data": {"values": [{}]},
      "mark": {"type": "text", "text": "C ~ T", "font": "Liberation Sans", "fontSize": 36, "fontWeight": "bold", "fontStyle": "italic", "color": "#ff0000", "align": "left", "baseline": "alphabetic"},
      "encoding": {
        "x": {"datum": 9.684, "type": "quantitative", "scale": {"domain": [0, 48.8], "nice": false, "zero": false}, "axis": null},
        "y": {"datum": 1.4796, "type": "quantitative", "scale": {"domain": [1.4, 2.9], "nice": false, "zero": false}, "axis": null}
      }
    },
    {
      "data": {"values": [{}]},
      "mark": {"type": "text", "text": "Mod", "font": "Liberation Sans", "fontSize": 22, "fontWeight": "bold", "fontStyle": "italic", "color": "#ff0000", "align": "left", "baseline": "alphabetic"},
      "encoding": {
        "x": {"datum": 13.19, "type": "quantitative", "scale": {"domain": [0, 48.8], "nice": false, "zero": false}, "axis": null},
        "y": {"datum": 1.4553, "type": "quantitative", "scale": {"domain": [1.4, 2.9], "nice": false, "zero": false}, "axis": null}
      }
    },
    {
      "data": {"values": [{}]},
      "mark": {"type": "text", "text": "ATLAS Pixel Preliminary", "font": "Liberation Sans", "fontSize": 42, "fontWeight": "bold", "fontStyle": "italic", "color": "black", "align": "left", "baseline": "alphabetic"},
      "encoding": {
        "x": {"datum": 30.02, "type": "quantitative", "scale": {"domain": [0, 48.8], "nice": false, "zero": false}, "axis": null},
        "y": {"datum": 1.4796, "type": "quantitative", "scale": {"domain": [1.4, 2.9], "nice": false, "zero": false}, "axis": null}
      }
    },
    {
      "data": {"values": [{}]},
      "mark": {"type": "circle", "size": 100, "color": "black", "opacity": 1},
      "encoding": {
        "x": {"datum": 38.28, "type": "quantitative", "scale": {"domain": [0, 48.8], "nice": false, "zero": false}, "axis": null},
        "y": {"datum": 2.7518, "type": "quantitative", "scale": {"domain": [1.4, 2.9], "nice": false, "zero": false}, "axis": null}
      }
    },
    {
      "data": {"values": [{}]},
      "mark": {"type": "rect", "fill": "#33ff00", "stroke": "black", "strokeWidth": 3},
      "encoding": {
        "x": {"datum": 37.8, "type": "quantitative", "scale": {"domain": [0, 48.8], "nice": false, "zero": false}, "axis": null},
        "x2": {"datum": 38.77},
        "y": {"datum": 2.6102, "type": "quantitative", "scale": {"domain": [1.4, 2.9], "nice": false, "zero": false}, "axis": null},
        "y2": {"datum": 2.6854}
      }
    },
    {
      "data": {"values": [{}]},
      "mark": {"type": "text", "text": "Mean", "font": "Liberation Sans", "fontSize": 32, "fontWeight": "bold", "color": "black", "align": "left", "baseline": "alphabetic"},
      "encoding": {
        "x": {"datum": 39.01, "type": "quantitative", "scale": {"domain": [0, 48.8], "nice": false, "zero": false}, "axis": null},
        "y": {"datum": 2.7296, "type": "quantitative", "scale": {"domain": [1.4, 2.9], "nice": false, "zero": false}, "axis": null}
      }
    },
    {
      "data": {"values": [{}]},
      "mark": {"type": "text", "text": "Range", "font": "Liberation Sans", "fontSize": 32, "fontWeight": "bold", "color": "black", "align": "left", "baseline": "alphabetic"},
      "encoding": {
        "x": {"datum": 39.01, "type": "quantitative", "scale": {"domain": [0, 48.8], "nice": false, "zero": false}, "axis": null},
        "y": {"datum": 2.6279, "type": "quantitative", "scale": {"domain": [1.4, 2.9], "nice": false, "zero": false}, "axis": null}
      }
    },
    {
      "data": {"values": [{}]},
      "mark": {"type": "point", "opacity": 0},
      "encoding": {
        "x": {"datum": 0, "type": "quantitative", "scale": {"domain": [0, 48.8], "nice": false, "zero": false},
          "axis": {"orient": "bottom", "values": [2, 4, 6, 8, 12, 14, 16, 18, 22, 24, 26, 28, 32, 34, 36, 38, 42, 44, 46, 48], "tickSize": -11, "labels": false, "title": null}},
        "y": {"datum": 1.4, "type": "quantitative", "scale": {"domain": [1.4, 2.9], "nice": false, "zero": false},
          "axis": {"orient": "left", "values": [1.45, 1.5, 1.55, 1.65, 1.7, 1.75, 1.85, 1.9, 1.95, 2.05, 2.1, 2.15, 2.25, 2.3, 2.35, 2.45, 2.5, 2.55, 2.65, 2.7, 2.75, 2.85], "tickSize": -19, "labels": false, "title": null}}
      }
    },
    {
      "data": {"values": [{}]},
      "mark": {"type": "point", "opacity": 0},
      "encoding": {
        "x": {"datum": 0, "type": "quantitative", "scale": {"domain": [0, 13.43], "nice": false, "zero": false},
          "axis": {"orient": "top", "values": [0, 2, 4, 6, 8, 10, 12], "tickSize": -22, "labelPadding": 38, "labelBaseline": "alphabetic", "format": "d", "domain": true,
            "title": "Average IBL Total Ionising Dose [Mrad]", "titleAlign": "right", "titleBaseline": "alphabetic", "titleX": 1406, "titleY": -62}},
        "y": {"datum": 1.4, "type": "quantitative", "scale": {"domain": [1.4, 2.9], "nice": false, "zero": false},
          "axis": {"orient": "right", "values": [1.4, 1.6, 1.8, 2, 2.2, 2.4, 2.6, 2.8], "tickSize": -38, "labels": false, "domain": true, "title": null}}
      }
    },
    {
      "data": {"values": [{}]},
      "mark": {"type": "point", "opacity": 0},
      "encoding": {
        "y": {"datum": 1.4, "type": "quantitative", "scale": {"domain": [1.4, 2.9], "nice": false, "zero": false},
          "axis": {"orient": "right", "values": [1.45, 1.5, 1.55, 1.65, 1.7, 1.75, 1.85, 1.9, 1.95, 2.05, 2.1, 2.15, 2.25, 2.3, 2.35, 2.45, 2.5, 2.55, 2.65, 2.7, 2.75, 2.85], "tickSize": -19, "labels": false, "title": null}}
      }
    }
  ],
  "resolve": {"scale": {"x": "independent", "y": "independent"}, "axis": {"x": "independent", "y": "independent"}}
}
